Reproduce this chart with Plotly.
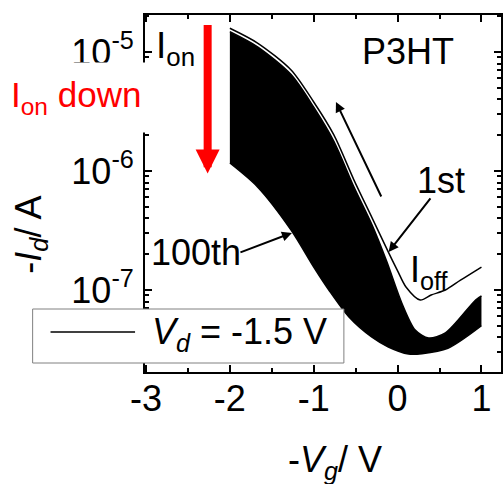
import plotly.graph_objects as go

# ---------------- data ----------------
# 1st transfer curve (separate top line)
vg_first = [-2.0, -1.67, -1.27, -1.0, -0.76, -0.52, -0.30, -0.11, 0.0, 0.10, 0.27, 0.40, 0.57, 0.75, 1.0]
id_first = [1.585e-5, 1.19e-5, 7.06e-6, 3.80e-6, 2.01e-6, 8.39e-7, 3.98e-7, 2.08e-7, 1.45e-7,
            1.06e-7, 8.24e-8, 9.08e-8, 1.0e-7, 1.21e-7, 1.56e-7]

# 2nd curve (upper edge of the dense band of curves 2..100)
vg_second = [-2.0, -1.67, -1.27, -1.0, -0.76, -0.52, -0.30, -0.13, 0.05, 0.21, 0.37, 0.57, 0.93, 1.0]
id_second = [1.483e-5, 1.107e-5, 6.47e-6, 3.44e-6, 1.778e-6, 7.33e-7, 3.46e-7, 1.74e-7, 7.78e-8,
             4.61e-8, 3.95e-8, 4.36e-8, 8.24e-8, 8.91e-8]

# 100th curve (lower edge of the band)
vg_last = [-2.0, -1.67, -1.27, -1.0, -0.82, -0.58, -0.31, -0.11, 0.13, 0.29, 0.60, 1.0]
id_last = [1.167e-6, 7.35e-7, 3.19e-7, 1.56e-7, 1.0e-7, 5.93e-8, 4.03e-8, 3.32e-8, 2.90e-8,
           2.92e-8, 3.24e-8, 5.01e-8]

x_tickvals = [-3, -2, -1, 0, 1]
x_ticktext = ["-3", "-2", "-1", "0", "1"]
y_tickvals = [1e-7, 1e-6, 1e-5]
y_ticktext = ["10<sup>-7</sup>", "10<sup>-6</sup>", "10<sup>-5</sup>"]

# ---------------- layout geometry ----------------
WIDTH, HEIGHT = 504, 484
ML, MR, MT, MB = 145, 1, 15, 112
PW = WIDTH - ML - MR
PH = HEIGHT - MT - MB


def px(xp):
    return (xp - ML) / PW


def py(yp):
    return (HEIGHT - MB - yp) / PH


FONT = "Liberation Sans, Arial, sans-serif"

fig = go.Figure()

fig.add_trace(go.Scatter(x=vg_last, y=id_last, mode="lines",
                         line=dict(color="black", width=1.5, shape="spline", smoothing=0.8),
                         showlegend=False, hoverinfo="skip"))
fig.add_trace(go.Scatter(x=vg_second, y=id_second, mode="lines", fill="tonexty",
                         fillcolor="black",
                         line=dict(color="black", width=1.5, shape="spline", smoothing=0.8),
                         showlegend=False, hoverinfo="skip"))
fig.add_trace(go.Scatter(x=vg_first, y=id_first, mode="lines",
                         line=dict(color="black", width=1.5, shape="spline", smoothing=0.8),
                         showlegend=False, hoverinfo="skip"))

fig.update_layout(
    width=WIDTH, height=HEIGHT,
    margin=dict(l=ML, r=MR, t=MT, b=MB, pad=0),
    paper_bgcolor="white", plot_bgcolor="white",
    font=dict(family=FONT, size=36, color="black"),
    showlegend=False,
)

fig.update_xaxes(
    range=[-3.012, 1.233], showgrid=False, zeroline=False,
    showline=True, linecolor="black", linewidth=2, mirror="allticks",
    ticks="inside", ticklen=7, tickwidth=2, tickcolor="black",
    tickmode="array", tickvals=x_tickvals, ticktext=x_ticktext,
    tickfont=dict(size=36), ticklabelstandoff=-6,
    minor=dict(ticks="inside", ticklen=4, tickwidth=2, tickcolor="black", dtick=0.5, tick0=-3),
)
fig.update_yaxes(
    type="log", range=[-7.689, -4.689], showgrid=False, zeroline=False,
    showline=True, linecolor="black", linewidth=2, mirror="allticks",
    ticks="inside", ticklen=7, tickwidth=2, tickcolor="black",
    tickmode="array", tickvals=y_tickvals, ticktext=y_ticktext,
    tickfont=dict(size=36), ticklabelstandoff=2,
    minor=dict(ticks="inside", ticklen=4, tickwidth=2, tickcolor="black", dtick="D1"),
)

ann = []
# axis titles
ann.append(dict(xref="paper", yref="paper", x=px(336), y=py(462), xanchor="center", yanchor="middle",
                text="-<i>V</i><sub><i>g</i></sub>/ V", showarrow=False, font=dict(size=36)))
ann.append(dict(xref="paper", yref="paper", x=px(30), y=py(235), xanchor="center", yanchor="middle",
                text="-<i>I</i><sub><i>d</i></sub>/ A", textangle=-90, showarrow=False, font=dict(size=36)))
# labels inside plot
ann.append(dict(xref="paper", yref="paper", x=px(409), y=py(52), xanchor="center", yanchor="middle",
                text="P3HT", showarrow=False, font=dict(size=36)))
ann.append(dict(xref="paper", yref="paper", x=px(154), y=py(48), xanchor="left", yanchor="middle",
                text="I<sub>on</sub>", showarrow=False, font=dict(size=37)))
ann.append(dict(xref="paper", yref="paper", x=px(8), y=py(97.5), xanchor="left", yanchor="middle",
                text="I<sub>on</sub> down", showarrow=False, font=dict(size=35, color="red"),
                bgcolor="white", width=144, height=67, align="left", valign="middle", borderpad=1))
ann.append(dict(xref="paper", yref="paper", x=px(443), y=py(180), xanchor="center", yanchor="middle",
                text="1st", showarrow=False, font=dict(size=36)))
ann.append(dict(xref="paper", yref="paper", x=px(196), y=py(252), xanchor="center", yanchor="middle",
                text="100th", showarrow=False, font=dict(size=36)))
ann.append(dict(xref="paper", yref="paper", x=px(409), y=py(272), xanchor="left", yanchor="middle",
                text="I<sub>off</sub>", showarrow=False, font=dict(size=36)))

# arrows (tip given in axis coords; log axis -> log10 value)
ann.append(dict(xref="x", yref="y", x=-0.735, y=-5.42, ax=46, ay=96, text="", showarrow=True,
                arrowhead=2, arrowsize=1, arrowwidth=2, arrowcolor="black"))
ann.append(dict(xref="x", yref="y", x=-0.107, y=-6.68, ax=43, ay=-55, text="", showarrow=True,
                arrowhead=2, arrowsize=1, arrowwidth=2, arrowcolor="black"))
ann.append(dict(xref="x", yref="y", x=-1.26, y=-6.52, ax=-53, ay=20, text="", showarrow=True,
                arrowhead=2, arrowsize=1, arrowwidth=2, arrowcolor="black"))
# red arrow
ann.append(dict(xref="x", yref="y", x=-2.265, y=-6.02, ax=0, ay=-150, text="", showarrow=True,
                arrowhead=2, arrowsize=0.6, arrowwidth=8, arrowcolor="red"))

# legend box (drawn manually)
ann.append(dict(xref="paper", yref="paper", x=px(150), y=py(334), xanchor="left", yanchor="middle",
                text="<i>V</i><sub><i>d</i></sub> = -1.5 V", showarrow=False, font=dict(size=36)))

fig.update_layout(annotations=ann)

fig.add_shape(type="rect", xref="paper", yref="paper", x0=px(32), x1=px(345), y0=py(363), y1=py(309),
              line=dict(color="#808080", width=1), fillcolor="white", layer="above")
fig.add_shape(type="line", xref="paper", yref="paper", x0=px(50), x1=px(135), y0=py(332), y1=py(332),
              line=dict(color="black", width=1.5), layer="above")

fig.write_html("out.html")
